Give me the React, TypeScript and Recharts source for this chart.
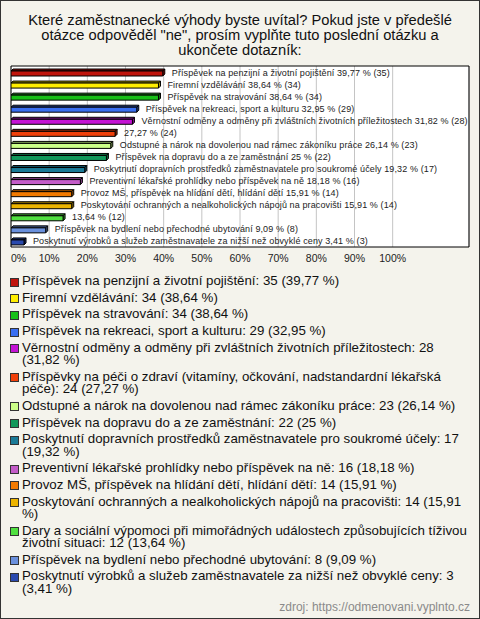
// Employee benefits survey — horizontal 3D-style bar chart with long legend

import { BarChart, Bar, XAxis, YAxis, CartesianGrid, LabelList, ReferenceArea } from 'recharts';

const FONT = '"Liberation Sans", Arial, sans-serif';

const categories = [
  'Příspěvek na penzijní a životní pojištění',
  'Firemní vzdělávání',
  'Příspěvek na stravování',
  'Příspěvek na rekreaci, sport a kulturu',
  'Věrnostní odměny a odměny při zvláštních životních příležitostech',
  'Příspěvky na péči o zdraví (vitamíny, očkování, nadstandardní lékařská péče)',
  'Odstupné a nárok na dovolenou nad rámec zákoníku práce',
  'Příspěvek na dopravu do a ze zaměstnání',
  'Poskytnutí dopravních prostředků zaměstnavatele pro soukromé účely',
  'Preventivní lékařské prohlídky nebo příspěvek na ně',
  'Provoz MŠ, příspěvek na hlídání dětí, hlídání dětí',
  'Poskytování ochranných a nealkoholických nápojů na pracovišti',
  'Dary a sociální výpomoci při mimořádných událostech způsobujících tíživou životní situaci',
  'Příspěvek na bydlení nebo přechodné ubytování',
  'Poskytnutí výrobků a služeb zaměstnavatele za nižší než obvyklé ceny',
];

const counts = [35, 34, 34, 29, 28, 24, 23, 22, 17, 16, 14, 14, 12, 8, 3];

const percents = [39.77, 38.64, 38.64, 32.95, 31.82, 27.27, 26.14, 25, 19.32, 18.18, 15.91, 15.91, 13.64, 9.09, 3.41];

// bar labels drop the name when it would not fit in the plot
const labelShowsName = [true, true, true, true, true, false, true, true, true, true, true, true, false, true, true];

const colors = [
  '#c0140c', '#ffee00', '#18c018', '#3a6ff0', '#c414d4',
  '#f0400a', '#ccff88', '#12985a', '#1a7a96', '#c35cc8',
  '#f27a00', '#ecb400', '#50e040', '#6a90dc', '#2a4aae',
];

const xTicks = [0, 10, 20, 30, 40, 50, 60, 70, 80, 90, 100];

const fmtPct = (v: number) => String(v).replace('.', ',');

const data = categories.map((name, i) => ({
  name,
  value: percents[i],
  color: colors[i],
  label: `${labelShowsName[i] ? name + ' ' : ''}${fmtPct(percents[i])} % (${counts[i]})`,
}));

function darken(hex: string, k = 0.65): string {
  const n = parseInt(hex.slice(1), 16);
  const r = Math.round(((n >> 16) & 255) * k);
  const g = Math.round(((n >> 8) & 255) * k);
  const b = Math.round((n & 255) * k);
  return `rgb(${r},${g},${b})`;
}

/** Flat bar with a small extruded top and end face */
function Bar3D(props: any) {
  const { x, y, width, height, payload } = props;
  const d = 2;
  const c = payload.color;
  const dk = darken(c);
  return (
    <g stroke="#000" strokeWidth={1} strokeLinejoin="round">
      <polygon
        points={`${x},${y + d} ${x + d},${y} ${x + width + d},${y} ${x + width},${y + d}`}
        fill={dk}
      />
      <polygon
        points={`${x + width},${y + d} ${x + width + d},${y} ${x + width + d},${y + height - d} ${x + width},${y + height}`}
        fill={dk}
      />
      <rect x={x} y={y + d} width={width} height={height - d} fill={c} />
    </g>
  );
}

// plain single-line label right of the bar (no wrapping)
function renderBarLabel(props: any) {
  const { x, y, width, height, value } = props;
  return (
    <text
      x={Number(x) + Number(width) + 9}
      y={Number(y) + Number(height) / 2}
      dominantBaseline="central"
      fontSize={9}
      letterSpacing={0.11}
      fill="#222"
      fontFamily={FONT}
    >
      {value}
    </text>
  );
}

function XTick(props: any) {
  const { x, y, payload } = props;
  return (
    <text
      x={x}
      y={y}
      dy="0.71em"
      textAnchor={payload.value === 0 ? 'start' : 'middle'}
      fontSize={10.5}
      fill="#222"
      fontFamily={FONT}
    >
      {`${payload.value}%`}
    </text>
  );
}

export default function App() {
  return (
    <div
      style={{
        position: 'absolute',
        left: 0,
        top: 0,
        width: 480,
        height: 619,
        boxSizing: 'border-box',
        border: '1px solid #333',
        background: '#f4f3ec',
        fontFamily: FONT,
        color: '#111',
        overflow: 'hidden',
      }}
    >
      <div
        style={{
          position: 'absolute',
          top: 12,
          left: 0,
          width: 478,
          textAlign: 'center',
          fontSize: 14.7,
          lineHeight: '15px',
        }}
      >
        Které zaměstnanecké výhody byste uvítal? Pokud jste v předešlé
        <br />
        otázce odpověděl "ne", prosím vyplňte tuto poslední otázku a
        <br />
        ukončete dotazník:
      </div>

      <div style={{ position: 'absolute', left: -1, top: -1 }}>
        <BarChart
          layout="vertical"
          width={480}
          height={270}
          data={data}
          margin={{ top: 66, right: 11, left: 11, bottom: 3 }}
          barSize={7}
        >
          <CartesianGrid horizontal={false} stroke="#c4c4c4" fill="#fff" />
          <XAxis
            type="number"
            domain={[0, 120]}
            ticks={xTicks}
            axisLine={false}
            tickLine={false}
            tick={<XTick />}
            height={20}
            interval={0}
            allowDataOverflow
          />
          <YAxis type="category" dataKey="name" hide />
          <ReferenceArea x1={0} x2={120} fill="none" stroke="#000" strokeWidth={1} fillOpacity={0} />
          <Bar dataKey="value" shape={<Bar3D />} isAnimationActive={false}>
            <LabelList dataKey="label" content={renderBarLabel} />
          </Bar>
        </BarChart>
      </div>

      <div style={{ position: 'absolute', left: 9, top: 274, width: 460, fontSize: 13.3, lineHeight: '12.4px' }}>
        {categories.map((name, i) => (
          <div key={name} style={{ display: 'flex', alignItems: 'flex-start', marginBottom: 4.27 }}>
            <span
              style={{
                flex: '0 0 auto',
                width: 7,
                height: 7,
                marginTop: 2.5,
                marginRight: 3,
                border: '1px solid #333',
                background: colors[i],
              }}
            />
            <span>{`${name}: ${counts[i]} (${fmtPct(percents[i])} %)`}</span>
          </div>
        ))}
      </div>

      <div
        style={{
          position: 'absolute',
          right: 9,
          top: 599,
          fontSize: 12,
          color: '#8a8a8a',
        }}
      >
        zdroj: https://odmenovani.vyplnto.cz
      </div>
    </div>
  );
}
